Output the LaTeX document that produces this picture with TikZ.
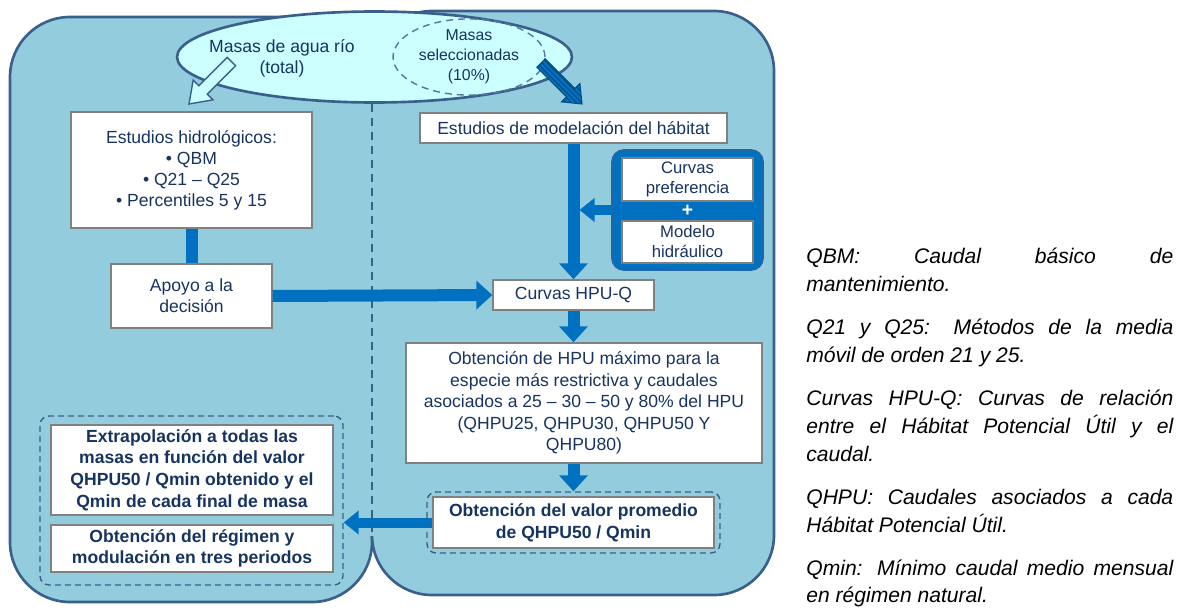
\documentclass[tikz,border=0pt]{standalone}
\usepackage{fontspec}
\setmainfont{Liberation Sans}
\usetikzlibrary{arrows.meta,shapes.geometric,patterns}

\definecolor{panelfill}{RGB}{147,205,221}
\definecolor{panelline}{RGB}{58,95,140}
\definecolor{arrowblue}{RGB}{0,112,192}
\definecolor{ellfill}{RGB}{204,255,255}
\definecolor{boxline}{RGB}{128,128,128}
\definecolor{navy}{RGB}{23,52,96}

\tikzset{
  box/.style={draw=boxline, line width=0.8pt, fill=white, text=navy, align=center, inner sep=0pt, font=\fontsize{10}{12}\selectfont},
  boldbox/.style={box, font=\fontsize{10}{12.3}\selectfont\bfseries},
  fatline/.style={draw=arrowblue, line width=0.24cm},
  fatarrow/.style={fatline, -{Triangle[width=0.56cm,length=0.32cm]}},
  slimarrow/.style={draw=arrowblue, line width=0.2cm, -{Triangle[width=0.46cm,length=0.3cm]}},
  dashbox/.style={draw=panelline, line width=0.8pt, dash pattern=on 0.12cm off 0.08cm, rounded corners=0.18cm, inner sep=0pt},
  deftext/.style={text width=7.34cm, align=justify, inner sep=0pt, font=\fontsize{12}{15.9}\selectfont\itshape},
}

\begin{document}
\begin{tikzpicture}[x=0.02cm, y=-0.02cm]
		%%%%% START %%%%%
		\useasboundingbox (0,0) rectangle (1177,612);
		
		% the two panels
		\draw[panelline, fill=panelfill, line width=1.5pt, rounded corners=1.2cm] (10,17) rectangle (372,602);
		\draw[panelline, fill=panelfill, line width=1.5pt, rounded corners=1.2cm] (372,11) rectangle (774,595);
		\draw[panelfill, line width=3pt] (372,104) -- (372,536);
		\draw[panelline, line width=1.2pt, dash pattern=on 0.16cm off 0.12cm] (372,104) -- (372,536);
		
		% top ellipses
		\node[ellipse, draw=panelline, fill=ellfill, line width=1.5pt, minimum width=7.9cm, minimum height=1.82cm, inner sep=0pt] (rio) at (374.5,57) {};
		\node[text=navy, align=center, font=\fontsize{10}{12}\selectfont] (riotxt) at (282,58) {Masas de agua río\\(total)};
		\node[ellipse, draw=panelline!85, line width=0.8pt, dash pattern=on 0.14cm off 0.1cm, minimum width=3.04cm, minimum height=1.2cm, inner sep=0pt, text=navy, align=center, font=\fontsize{9}{11.3}\selectfont] (sel) at (469,57) {Masas\\seleccionadas\\(10\%)};
		
		% hollow arrow and striped arrow
		\draw[panelline, fill=ellfill, line width=0.8pt] (235.7,65.8) -- (207.3,94.1) -- (213.0,99.8) -- (189,104) -- (193.2,80.0) -- (198.9,85.7) -- (227.2,57.4) -- cycle;
		\draw[arrowblue!70!black, fill=arrowblue, line width=0.6pt] (536.8,67.2) -- (566.5,96.9) -- (561.5,101.9) -- (582,104) -- (579.9,83.5) -- (574.9,88.5) -- (545.2,58.8) -- cycle;
		\fill[pattern=north west lines, pattern color=arrowblue!55!black] (536.8,67.2) -- (566.5,96.9) -- (561.5,101.9) -- (582,104) -- (579.9,83.5) -- (574.9,88.5) -- (545.2,58.8) -- cycle;
		
		% left column
		\node[box, minimum width=4.82cm, minimum height=2.32cm] (hidro) at (191.5,170) {Estudios hidrológicos:\\• QBM\\• Q21 – Q25\\• Percentiles 5 y 15};
		\node[box, minimum width=3.22cm, minimum height=1.28cm] (apoyo) at (191.5,296) {Apoyo a la\\decisión};
		\node[dashbox, minimum width=6.06cm, minimum height=3.38cm] (leftc) at (191.5,500.5) {};
		\node[boldbox, minimum width=5.64cm, minimum height=1.8cm] (extra) at (192,470) {Extrapolación a todas las\\masas en función del valor\\QHPU50 / Qmin obtenido y el\\Qmin de cada final de masa};
		\node[boldbox, minimum width=5.64cm, minimum height=0.94cm] (regimen) at (192,548.5) {Obtención del régimen y\\modulación en tres periodos};
		
		% right column
		\node[box, minimum width=6.14cm, minimum height=0.6cm] (model) at (573.5,128) {Estudios de modelación del hábitat};
		\node[draw=panelline!60!arrowblue, fill=arrowblue, line width=1pt, rounded corners=0.24cm, minimum width=3.02cm, minimum height=2.4cm, inner sep=0pt] (cont) at (687.5,210) {};
		\node[box, font=\fontsize{9.5}{11.4}\selectfont, minimum width=2.62cm, minimum height=0.86cm] (pref) at (687.5,179.5) {Curvas\\preferencia};
		\node[text=white, font=\fontsize{11}{12}\selectfont\bfseries, inner sep=0pt] (plus) at (687.5,211) {+};
		\node[box, font=\fontsize{9.5}{11.4}\selectfont, minimum width=2.62cm, minimum height=0.84cm] (hidra) at (687.5,242) {Modelo\\hidráulico};
		\node[box, minimum width=3.22cm, minimum height=0.6cm] (hpuq) at (573.5,295) {Curvas HPU-Q};
		\node[box, font=\fontsize{10}{12.2}\selectfont, minimum width=7.12cm, minimum height=2.4cm] (maxhpu) at (584,403) {Obtención de HPU máximo para la\\especie más restrictiva y caudales\\asociados a 25 – 30 – 50 y 80\% del HPU\\(QHPU25, QHPU30, QHPU50 Y\\QHPU80)};
		\node[dashbox, minimum width=5.86cm, minimum height=1.22cm] (promc) at (573.5,522.5) {};
		\node[boldbox, minimum width=5.62cm, minimum height=1.02cm] (prom) at (573.5,522.5) {Obtención del valor promedio\\de QHPU50 / Qmin};
		
		% connectors
		\coordinate (joint) at (579.5,210);
		\draw[fatline] (hidro.south) -- (apoyo.north);
		\draw[fatarrow] (apoyo.east) -- (hpuq.west);
		\draw[fatarrow] (model.south) -- (hpuq.north);
		\draw[slimarrow] (cont.west) -- (joint);
		\draw[fatarrow] (hpuq.south) -- (hpuq.south |- maxhpu.north);
		\draw[fatarrow] (promc.north |- maxhpu.south) -- (promc.north);
		\draw[slimarrow] (prom.west) -- (prom.west -| leftc.east);
		
		% definitions
		\node[deftext, anchor=north west] (defs) at (806,248) {\hyphenpenalty=10000\setlength{\parskip}{8.5pt}%
			QBM: Caudal básico de\linebreak mantenimiento.\par
			Q21 y Q25: Métodos de la media\linebreak móvil de orden 21 y 25.\par
			Curvas HPU-Q: Curvas de relación\linebreak entre el Hábitat Potencial Útil y el\linebreak caudal.\par
			QHPU: Caudales asociados a cada\linebreak Hábitat Potencial Útil.\par
			Qmin: Mínimo caudal medio mensual\linebreak en régimen natural.};
		
		%%%%% END %%%%%
	\end{tikzpicture}
\end{document}
